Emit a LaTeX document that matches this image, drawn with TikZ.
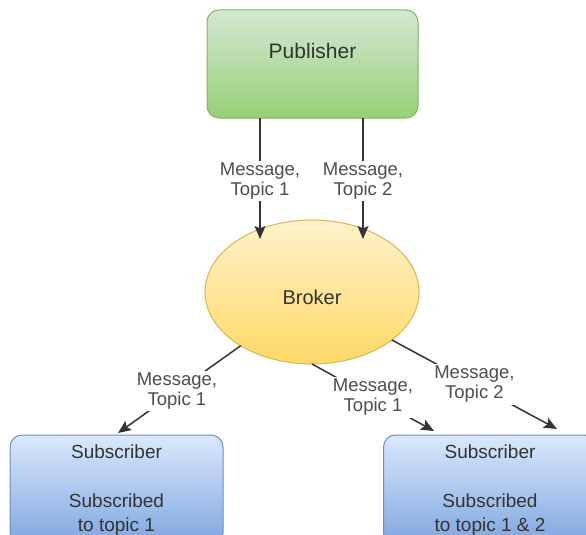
\documentclass[tikz,border=0pt]{standalone}
\usepackage{fontspec}
\setmainfont{Liberation Sans}
\usetikzlibrary{arrows.meta,shapes.geometric}

\definecolor{pubtop}{HTML}{D5E8D4}
\definecolor{pubbot}{HTML}{97D077}
\definecolor{publine}{HTML}{82B366}
\definecolor{brotop}{HTML}{FFF2CC}
\definecolor{brobot}{HTML}{FFD966}
\definecolor{broline}{HTML}{D6B656}
\definecolor{subtop}{HTML}{DAE8FC}
\definecolor{subbot}{HTML}{7EA6E0}
\definecolor{subline}{HTML}{6C8EBF}
\definecolor{wire}{HTML}{333333}
\definecolor{ink}{HTML}{333333}
\definecolor{labelink}{HTML}{4D4D4D}

\tikzset{
  pubbox/.style={draw=publine, line width=1pt, rounded corners=12pt,
    top color=pubtop, bottom color=pubbot, minimum width=211pt,
    minimum height=108pt, inner sep=0pt, outer sep=0pt,
    text height=15pt, text depth=25pt,
    font=\fontsize{21}{25}\selectfont, text=ink},
  brokerbox/.style={ellipse, draw=broline, line width=1pt,
    top color=brotop, bottom color=brobot, minimum width=214pt,
    minimum height=144pt, inner sep=0pt, outer sep=0pt,
    text height=24.5pt, text depth=0.2pt,
    font=\fontsize{20}{24}\selectfont, text=ink},
  subbox/.style={draw=subline, line width=1pt, rounded corners=12pt,
    top color=subtop, bottom color=subbot, minimum width=213pt,
    minimum height=110pt, inner sep=0pt, outer sep=0pt, align=center,
    font=\fontsize{19}{24.5}\selectfont, text=ink},
  wirearrow/.style={draw=wire, line width=1.5pt,
    -{Stealth[length=13pt,width=11pt,inset=2.5pt]}},
  msglabel/.style={fill=white, inner sep=2pt, align=center,
    font=\fontsize{18.5}{20}\selectfont, text=labelink}
}

\begin{document}
\begin{tikzpicture}[x=1pt,y=-1pt]
  \useasboundingbox (0,0) rectangle (586,535);

  % nodes
  \node[pubbox] (pub) at (312.5,64) {Publisher};
  \node[brokerbox] (bro) at (312,292) {Broker};
  \node[subbox] (sub1) at (116.5,490)
    {Subscriber\\\mbox{}\\Subscribed\\to topic 1};
  \node[subbox] (sub2) at (490,490)
    {Subscriber\\\mbox{}\\Subscribed\\to topic 1 \& 2};

  % arrow tips
  \coordinate (in1) at (260,239);
  \coordinate (in2) at (363,239);
  \coordinate (out1) at (118,433);
  \coordinate (out2) at (434,431);
  \coordinate (out3) at (557,429);

  % publisher -> broker
  \draw[wirearrow] (pub.south -| in1) -- node[msglabel, pos=0.52]
    {Message,\\Topic 1} (in1);
  \draw[wirearrow] (pub.south -| in2) -- node[msglabel, pos=0.52]
    {Message,\\Topic 2} (in2);

  % broker -> subscribers
  \draw[wirearrow] (bro.217) -- node[msglabel, pos=0.52]
    {Message,\\Topic 1} (out1);
  \draw[wirearrow] (bro.south) -- node[msglabel, pos=0.5]
    {Message,\\Topic 1} (out2);
  \draw[wirearrow] (bro.329) -- node[msglabel, pos=0.5]
    {Message,\\Topic 2} (out3);
\end{tikzpicture}
\end{document}
